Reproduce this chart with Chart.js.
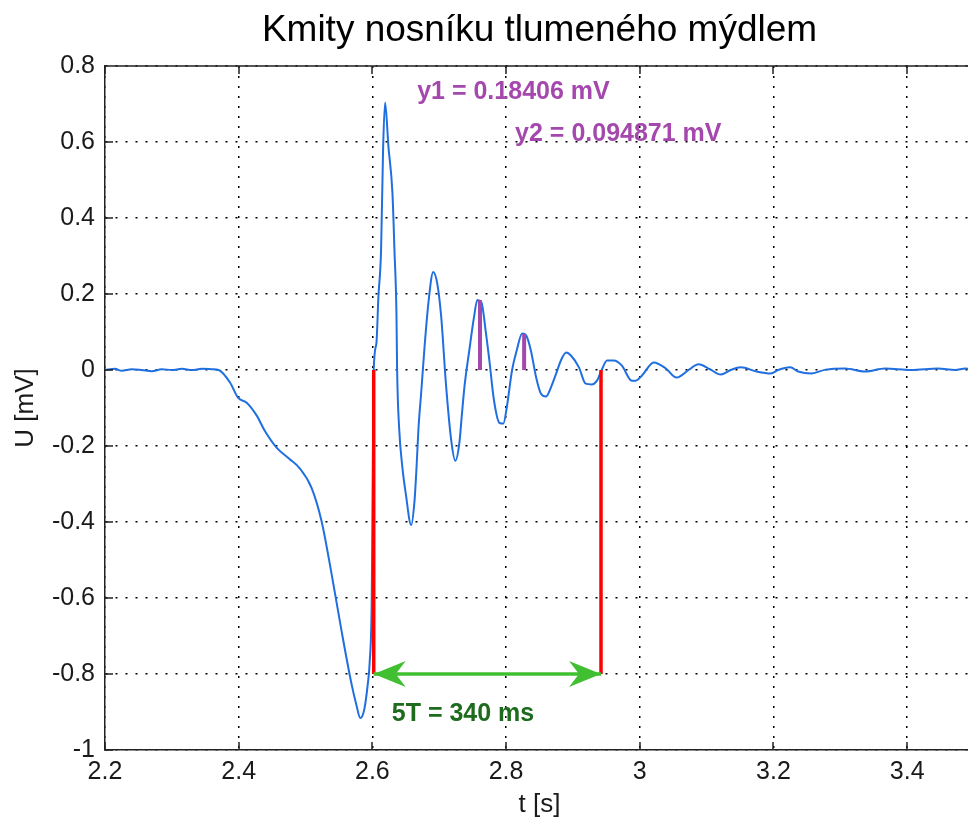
<!DOCTYPE html>
<html>
<head>
<meta charset="utf-8">
<script src="https://cdn.jsdelivr.net/npm/chart.js@4.4.1/dist/chart.umd.min.js"></script>
<style>
  html, body { margin: 0; padding: 0; background: #fff; overflow: hidden; }
  #wrap { width: 1080px; height: 824px; }
</style>
</head>
<body>
<div id="wrap"><canvas id="chart" width="1080" height="824"></canvas></div>
<script>
// namerene kmity - cas [s]
const timeS = [
  2.200, 2.215, 2.225, 2.240, 2.255, 2.270, 2.285, 2.300, 2.315, 2.330, 2.345, 2.360, 2.370,
  2.387, 2.399, 2.412, 2.427, 2.439, 2.457, 2.476, 2.491, 2.509, 2.524, 2.539, 2.554, 2.569,
  2.576, 2.582, 2.588, 2.593, 2.596, 2.599, 2.600, 2.602, 2.606, 2.609, 2.613, 2.616, 2.619,
  2.624, 2.630, 2.633, 2.636, 2.637, 2.640, 2.645, 2.650, 2.658, 2.663, 2.666, 2.669, 2.673,
  2.678, 2.684, 2.691, 2.697, 2.703, 2.710, 2.718, 2.724, 2.730, 2.734, 2.738, 2.745, 2.752,
  2.757, 2.763, 2.770, 2.775, 2.782, 2.790, 2.796, 2.801, 2.809, 2.816, 2.824, 2.830, 2.837,
  2.845, 2.852, 2.860, 2.864, 2.875, 2.882, 2.890, 2.897, 2.909, 2.919, 2.928, 2.936, 2.943,
  2.951, 2.961, 2.973, 2.988, 2.994, 3.003, 3.021, 3.039, 3.055, 3.073, 3.088, 3.105, 3.121,
  3.136, 3.151, 3.175, 3.196, 3.207, 3.225, 3.237, 3.257, 3.278, 3.307, 3.337, 3.367, 3.406,
  3.446, 3.472, 3.487, 3.500
];
// napeti U [mV]
const voltageMv = [
  0, 0.003, -0.002, 0.002, 0, -0.003, 0.002, 0, 0.003, 0, 0.003, 0.002, 0,
  -0.033, -0.073, -0.086, -0.120, -0.160, -0.205, -0.234, -0.258, -0.310, -0.398, -0.537, -0.688, -0.828,
  -0.881, -0.916, -0.892, -0.828, -0.768, -0.609, -0.398, 0, 0.070, 0.192, 0.316, 0.580, 0.704,
  0.588, 0.466, 0.316, 0.149, 0, -0.152, -0.258, -0.326, -0.408, -0.345, -0.258, -0.152, -0.060,
  0.060, 0.180, 0.258, 0.228, 0.139, -0.036, -0.186, -0.239, -0.194, -0.115, -0.040, 0.052, 0.139,
  0.184, 0.178, 0.096, 0.025, -0.081, -0.139, -0.141, -0.099, 0, 0.052, 0.096, 0.091, 0.052,
  -0.020, -0.062, -0.070, -0.059, -0.009, 0.025, 0.046, 0.038, 0.007, -0.036, -0.038, -0.028, 0,
  0.025, 0.025, 0.012, -0.028, -0.028, -0.015, 0.020, 0.004, -0.020, 0, 0.015, 0.002, -0.012,
  0, 0.007, -0.004, -0.009, 0, 0.007, -0.004, -0.009, 0.001, 0.004, -0.004, 0.004, 0,
  0.004, 0, 0.004, 0
];

const xTicks = [2.2, 2.4, 2.6, 2.8, 3.0, 3.2, 3.4];
const xTickLabels = ['2.2', '2.4', '2.6', '2.8', '3', '3.2', '3.4'];
const yTicks = [-1, -0.8, -0.6, -0.4, -0.2, 0, 0.2, 0.4, 0.6, 0.8];
const yTickLabels = ['-1', '-0.8', '-0.6', '-0.4', '-0.2', '0', '0.2', '0.4', '0.6', '0.8'];

const titleText = 'Kmity nosníku tlumeného mýdlem';

// odecet 5 period
const periodStart = 2.602;
const periodEnd = 2.942;
const periodLevel = -0.8;
const periodText = '5T = 340 ms';
const periodTextPos = [2.629, -0.905];

// amplitudy y1, y2
const peakTimes = [2.761, 2.827];
const peakValues = [0.18406, 0.094871];
const peakTexts = ['y1 = 0.18406 mV', 'y2 = 0.094871 mV'];
const peakTextPos = [[2.667, 0.730], [2.8135, 0.621]];

const BLUE = '#1f6fe0';
const RED = '#ff0000';
const PURPLE = '#a448ad';
const GREEN = '#40c030';
const DARKGREEN = '#1e6b1e';
const FONT = '"Liberation Sans", Arial, sans-serif';

Chart.defaults.font.family = FONT;
Chart.defaults.color = '#1a1a1a';

const seg = (x0, y0, x1, y1) => [{ x: x0, y: y0 }, { x: x1, y: y1 }];

const datasets = [
  {
    data: timeS.map((t, i) => ({ x: t, y: voltageMv[i] })),
    borderColor: BLUE, borderWidth: 2, pointRadius: 0,
    cubicInterpolationMode: 'monotone', order: 5
  },
  { data: seg(periodStart, 0, periodStart, periodLevel), borderColor: RED, borderWidth: 3.5, pointRadius: 0, order: 1 },
  { data: seg(periodEnd, 0, periodEnd, periodLevel), borderColor: RED, borderWidth: 3.5, pointRadius: 0, order: 1 },
  { data: seg(peakTimes[0], 0, peakTimes[0], peakValues[0]), borderColor: PURPLE, borderWidth: 4, pointRadius: 0, order: 1 },
  { data: seg(peakTimes[1], 0, peakTimes[1], peakValues[1]), borderColor: PURPLE, borderWidth: 4, pointRadius: 0, order: 1 },
  { data: seg(periodStart, periodLevel, periodEnd, periodLevel), borderColor: GREEN, borderWidth: 3.5, pointRadius: 0, order: 0 }
];

function arrowHead(ctx, tipX, tipY, dir) {
  ctx.beginPath();
  ctx.moveTo(tipX, tipY);
  ctx.lineTo(tipX - dir * 32, tipY - 13);
  ctx.lineTo(tipX - dir * 22, tipY);
  ctx.lineTo(tipX - dir * 32, tipY + 13);
  ctx.closePath();
  ctx.fill();
}

// matlab styl: tiky dovnitr, horni okraj, nadpis, popisky
const extras = {
  id: 'extras',
  afterDatasetsDraw(chart) {
    const { ctx, chartArea: a, scales: { x, y } } = chart;
    ctx.save();
    ctx.strokeStyle = '#222';
    ctx.lineWidth = 1.5;
    ctx.beginPath();
    xTicks.forEach(v => {
      const px = Math.round(x.getPixelForValue(v));
      ctx.moveTo(px, a.bottom); ctx.lineTo(px, a.bottom - 8);
      ctx.moveTo(px, a.top); ctx.lineTo(px, a.top + 8);
    });
    yTicks.forEach(v => {
      const py = Math.round(y.getPixelForValue(v));
      ctx.moveTo(a.left, py); ctx.lineTo(a.left + 8, py);
    });
    ctx.moveTo(a.left, a.top); ctx.lineTo(a.right, a.top);
    ctx.lineTo(a.right, a.bottom);
    ctx.stroke();

    ctx.fillStyle = GREEN;
    const ay = y.getPixelForValue(periodLevel);
    arrowHead(ctx, x.getPixelForValue(periodStart), ay, -1);
    arrowHead(ctx, x.getPixelForValue(periodEnd), ay, 1);

    ctx.font = 'bold 25px ' + FONT;
    ctx.textAlign = 'left';
    ctx.textBaseline = 'middle';
    ctx.fillStyle = PURPLE;
    peakTexts.forEach((s, i) => {
      ctx.fillText(s, x.getPixelForValue(peakTextPos[i][0]), y.getPixelForValue(peakTextPos[i][1]));
    });
    ctx.fillStyle = DARKGREEN;
    ctx.fillText(periodText, x.getPixelForValue(periodTextPos[0]), y.getPixelForValue(periodTextPos[1]));

    // nadpis nad stredem os
    ctx.font = '37px ' + FONT;
    ctx.fillStyle = '#000';
    ctx.textAlign = 'center';
    ctx.textBaseline = 'alphabetic';
    ctx.fillText(titleText, (a.left + a.right) / 2, 41);
    ctx.restore();
  }
};

new Chart(document.getElementById('chart'), {
  type: 'line',
  data: { datasets: datasets },
  options: {
    responsive: false,
    animation: false,
    layout: { padding: { left: 0, right: 106, top: 66, bottom: 0 } },
    plugins: {
      legend: { display: false },
      tooltip: { enabled: false },
      title: { display: false }
    },
    scales: {
      x: {
        type: 'linear',
        min: 2.2,
        max: 3.5,
        afterBuildTicks: s => { s.ticks = xTicks.map(v => ({ value: v })); },
        afterFit: s => { s.height = 74; },
        ticks: {
          autoSkip: false, maxRotation: 0, padding: 7,
          font: { size: 25 },
          callback: (v, i) => xTickLabels[i]
        },
        grid: { color: '#000', lineWidth: 1.5, drawTicks: false },
        border: { display: true, color: '#222', width: 1.5, dash: [2, 8] },
        title: { display: true, text: 't [s]', font: { size: 26 }, padding: { top: 0, bottom: 4 } }
      },
      y: {
        min: -1,
        max: 0.8,
        afterBuildTicks: s => { s.ticks = yTicks.map(v => ({ value: v })); },
        afterFit: s => { s.width = 105; },
        ticks: {
          autoSkip: false, padding: 10,
          font: { size: 25 },
          callback: (v, i) => yTickLabels[i]
        },
        grid: { color: '#000', lineWidth: 1.5, drawTicks: false },
        border: { display: true, color: '#222', width: 1.5, dash: [2, 8] },
        title: { display: true, text: 'U [mV]', font: { size: 26 }, padding: { top: 10, bottom: 0 } }
      }
    }
  },
  plugins: [extras]
});
</script>
</body>
</html>
